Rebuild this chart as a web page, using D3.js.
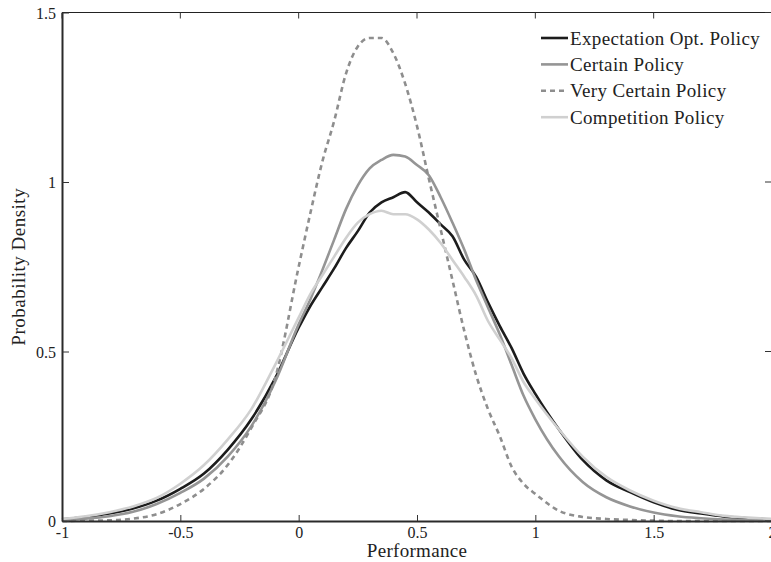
<!DOCTYPE html>
<html>
<head>
<meta charset="utf-8">
<script src="https://cdn.jsdelivr.net/npm/d3@7"></script>
<style>
  html, body { margin: 0; padding: 0; background: #fff; overflow: hidden; }
  text { font-family: "Liberation Serif", "DejaVu Serif", serif; fill: #222; }
</style>
</head>
<body>
<svg id="chart" width="771" height="562"></svg>
<script>
// performance grid (denser near the peak)
const xs = [-1, -0.9, -0.8, -0.7, -0.6, -0.5, -0.4, -0.3, -0.2, -0.1,
	0, 0.05, 0.1, 0.15, 0.2, 0.25, 0.3, 0.35, 0.4, 0.45, 0.5, 0.55, 0.6, 0.65, 0.7, 0.75, 0.8, 0.85, 0.9, 0.95, 1.0,
	1.1, 1.2, 1.3, 1.4, 1.5, 1.6, 1.7, 1.8, 1.9, 2.0];

const expectationOpt = [0.005, 0.012, 0.022, 0.037, 0.06, 0.095, 0.14, 0.21, 0.30, 0.42,
	0.57, 0.635, 0.69, 0.745, 0.805, 0.855, 0.91, 0.94, 0.955, 0.97, 0.94, 0.91, 0.875, 0.84, 0.77, 0.72, 0.645, 0.575, 0.51, 0.435, 0.375,
	0.27, 0.18, 0.12, 0.085, 0.055, 0.033, 0.022, 0.013, 0.008, 0.005];

const certain = [0.003, 0.007, 0.014, 0.027, 0.05, 0.083, 0.125, 0.19, 0.28, 0.41,
	0.58, 0.655, 0.74, 0.83, 0.92, 0.99, 1.04, 1.065, 1.08, 1.075, 1.05, 1.02, 0.955, 0.88, 0.80, 0.71, 0.63, 0.55, 0.46, 0.37, 0.30,
	0.19, 0.115, 0.07, 0.043, 0.025, 0.014, 0.008, 0.004, 0.002, 0.001];

const veryCertain = [0, 0.001, 0.002, 0.007, 0.02, 0.05, 0.095, 0.165, 0.275, 0.42,
	0.75, 0.91, 1.06, 1.18, 1.32, 1.40, 1.425, 1.425, 1.38, 1.29, 1.165, 1.01, 0.86, 0.71, 0.56, 0.43, 0.33, 0.25, 0.16, 0.11, 0.08,
	0.03, 0.012, 0.006, 0.003, 0.001, 0, 0, 0, 0, 0];

const competition = [0.006, 0.014, 0.026, 0.043, 0.068, 0.11, 0.165, 0.24, 0.33, 0.46,
	0.60, 0.67, 0.725, 0.78, 0.835, 0.88, 0.905, 0.915, 0.905, 0.905, 0.89, 0.86, 0.82, 0.77, 0.72, 0.665, 0.59, 0.535, 0.48, 0.41, 0.36,
	0.27, 0.19, 0.13, 0.09, 0.06, 0.038, 0.026, 0.015, 0.01, 0.006];

const seriesNames = ['Expectation Opt. Policy', 'Certain Policy', 'Very Certain Policy', 'Competition Policy'];
const seriesValues = [expectationOpt, certain, veryCertain, competition];
const seriesColors = ['#1c1c1c', '#959595', '#8e8e8e', '#d0d0d0'];
const seriesDash = [null, null, '5,4', null];

const xTicks = [-1, -0.5, 0, 0.5, 1, 1.5, 2];
const yTicks = [0, 0.5, 1, 1.5];

const margin = { left: 62, top: 12.5 };
const width = 710;
const height = 508.5;

const svg = d3.select('#chart');
const g = svg.append('g').attr('transform', `translate(${margin.left},${margin.top})`);

const x = d3.scaleLinear().domain([-1, 2]).range([0, width]);
const y = d3.scaleLinear().domain([0, 1.5]).range([height, 0]);

const fmt = d => String(d);

// curves
const line = d3.line()
	.x((d, i) => x(xs[i]))
	.y(d => y(d))
	.curve(d3.curveMonotoneX);

seriesValues.forEach((vals, i) => {
	g.append('path')
		.datum(vals)
		.attr('d', line)
		.attr('fill', 'none')
		.attr('stroke', seriesColors[i])
		.attr('stroke-width', 2.6)
		.attr('stroke-linejoin', 'round')
		.attr('stroke-dasharray', seriesDash[i]);
});

// box
g.append('line').attr('x1', 0).attr('x2', width).attr('y1', 0).attr('y2', 0)
	.attr('stroke', '#222').attr('stroke-width', 1.2);
g.append('line').attr('x1', width).attr('x2', width).attr('y1', 0).attr('y2', height)
	.attr('stroke', '#222').attr('stroke-width', 1.2);

// axes
const xAxis = g.append('g')
	.attr('transform', `translate(0,${height})`)
	.call(d3.axisBottom(x).tickValues(xTicks).tickFormat(fmt).tickSizeInner(-6).tickSizeOuter(0).tickPadding(6));
const yAxis = g.append('g')
	.call(d3.axisLeft(y).tickValues(yTicks).tickFormat(fmt).tickSizeInner(-7).tickSizeOuter(0).tickPadding(6));

[xAxis, yAxis].forEach(ax => {
	ax.select('.domain').attr('stroke', '#2a2a2a').attr('stroke-width', 2);
	ax.selectAll('.tick line').attr('stroke', '#333').attr('stroke-width', 1);
	ax.selectAll('.tick text')
		.attr('fill', '#222')
		.style('font-family', '"Liberation Serif", "DejaVu Serif", serif')
		.style('font-size', '16px');
});
yAxis.selectAll('.tick text').attr('dy', '0.36em');

// mirror ticks on top and right
g.append('g').selectAll('line').data(xTicks).join('line')
	.attr('x1', d => x(d)).attr('x2', d => x(d))
	.attr('y1', 0).attr('y2', 6)
	.attr('stroke', '#333');
g.append('g').selectAll('line').data(yTicks).join('line')
	.attr('x1', width).attr('x2', width - 7)
	.attr('y1', d => y(d)).attr('y2', d => y(d))
	.attr('stroke', '#333');

// axis titles
g.append('text')
	.attr('x', x(0.5))
	.attr('y', height + 36)
	.attr('text-anchor', 'middle')
	.style('font-size', '19px')
	.style('letter-spacing', '0.3px')
	.text('Performance');

g.append('text')
	.attr('transform', `translate(${-37},${height / 2}) rotate(-90)`)
	.attr('text-anchor', 'middle')
	.style('font-size', '19px')
	.style('letter-spacing', '0.5px')
	.text('Probability Density');

// legend
const legend = svg.append('g').attr('transform', 'translate(541,38)');
seriesNames.forEach((name, i) => {
	const row = legend.append('g').attr('transform', `translate(0,${i * 26.4})`);
	row.append('line')
		.attr('x1', 0).attr('x2', 27)
		.attr('stroke', seriesColors[i])
		.attr('stroke-width', 2.6)
		.attr('stroke-dasharray', seriesDash[i]);
	row.append('text')
		.attr('x', 29)
		.attr('dy', '0.35em')
		.style('font-size', '19px')
		.style('letter-spacing', '0.35px')
		.text(name);
});
</script>
</body>
</html>
